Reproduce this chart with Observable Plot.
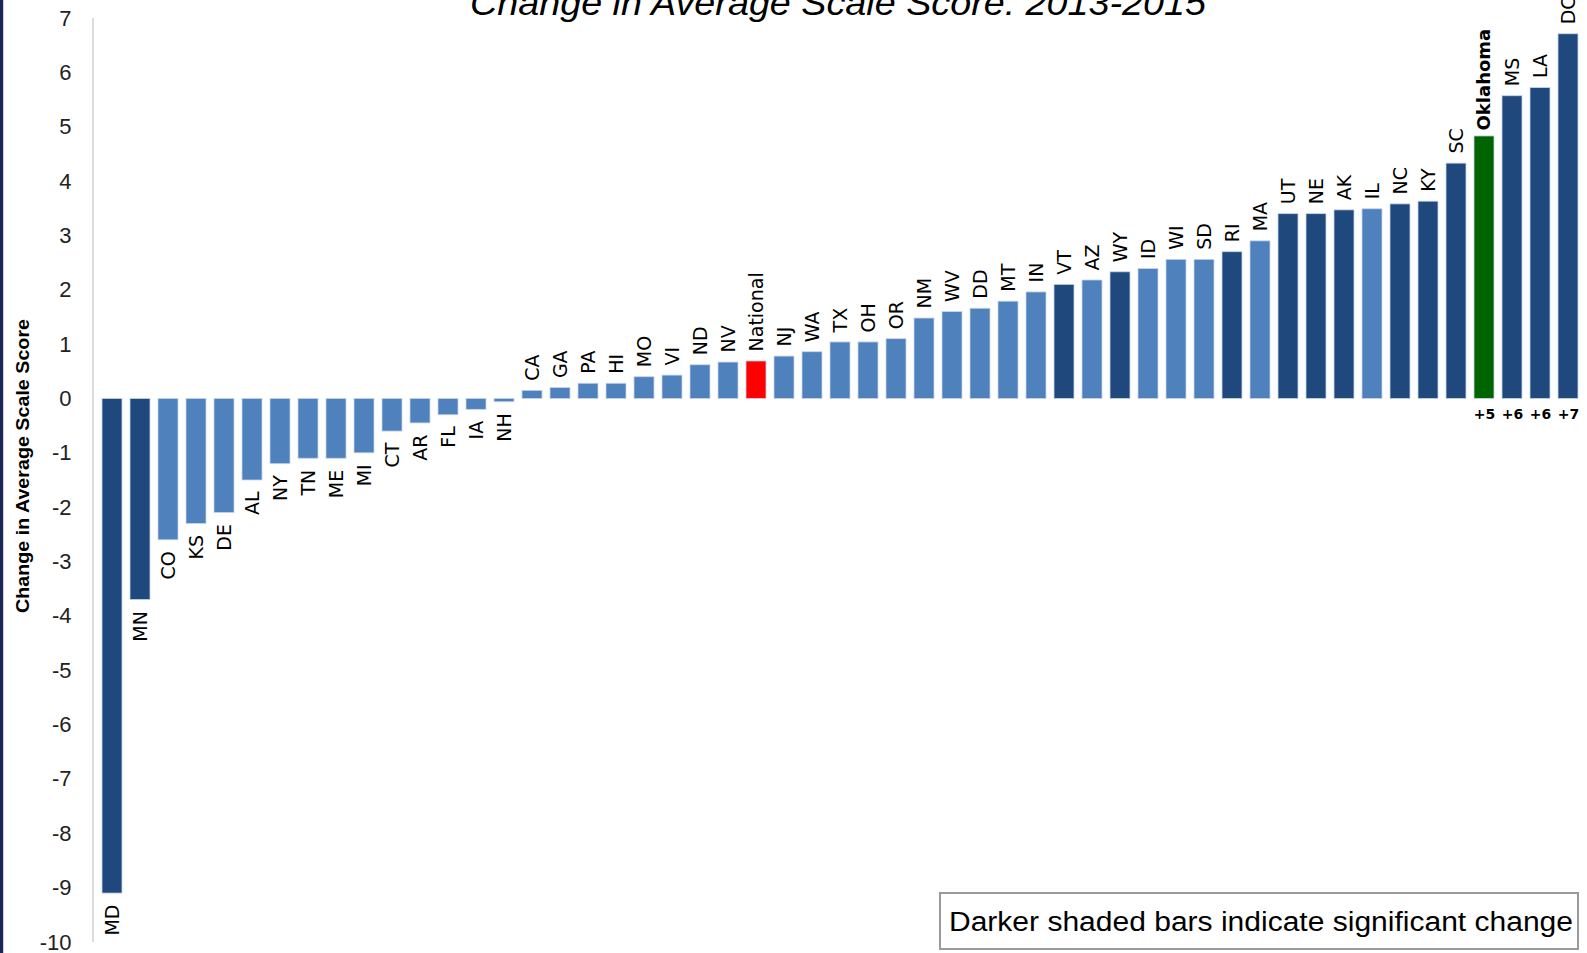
<!DOCTYPE html>
<html>
<head>
<meta charset="utf-8">
<script src="https://cdn.jsdelivr.net/npm/d3@7"></script>
<script src="https://cdn.jsdelivr.net/npm/@observablehq/plot@0.6"></script>
<style>
  html, body { margin: 0; padding: 0; background: #fff; }
  #wrap { position: relative; width: 1587px; height: 953px; overflow: hidden; }
  #edge { position: absolute; left: 0; top: 0; width: 3px; height: 953px; background: #1b2759; border-right: 1px solid #cfcfd6; }
</style>
</head>
<body>
<div id="wrap"><div id="edge"></div></div>
<script>
// ---- data ----
const states = ["MD","MN","CO","KS","DE","AL","NY","TN","ME","MI","CT","AR","FL","IA","NH",
  "CA","GA","PA","HI","MO","VI","ND","NV","National","NJ","WA","TX","OH","OR",
  "NM","WV","DD","MT","IN","VT","AZ","WY","ID","WI","SD","RI","MA",
  "UT","NE","AK","IL","NC","KY","SC","Oklahoma","MS","LA","DC"];
const changes = [-9.1,-3.7,-2.6,-2.3,-2.1,-1.5,-1.2,-1.1,-1.1,-1.0,-0.6,-0.45,-0.3,-0.2,-0.06,
  0.15,0.2,0.28,0.28,0.4,0.43,0.62,0.67,0.69,0.78,0.86,1.04,1.04,1.1,
  1.48,1.6,1.66,1.79,1.96,2.1,2.18,2.33,2.39,2.56,2.56,2.7,2.9,
  3.4,3.4,3.47,3.49,3.58,3.63,4.33,4.83,5.57,5.72,6.71];
const groups = ["sig","sig","ns","ns","ns","ns","ns","ns","ns","ns","ns","ns","ns","ns","ns",
  "ns","ns","ns","ns","ns","ns","ns","ns","national","ns","ns","ns","ns","ns",
  "ns","ns","ns","ns","ns","sig","ns","sig","ns","ns","ns","sig","ns",
  "sig","sig","sig","ns","sig","sig","sig","oklahoma","sig","sig","sig"];
const groupNames = ["sig","ns","national","oklahoma"];
const groupColors = ["#1f497d","#4f81bd","#ff0000","#006400"];
const roundedStates = ["Oklahoma","MS","LA","DC"];
const roundedLabels = ["+5","+6","+6","+7"];
const yTicks = d3.range(-10, 8);
const titleText = "Change in Average Scale Score: 2013-2015";
const yLabel = "Change in Average Scale Score";
const noteText = "Darker shaded bars indicate significant change";

const data = states.map((s, i) => ({state: s, value: changes[i], group: groups[i]}));
const rounded = roundedStates.map((s, i) => ({state: s, label: roundedLabels[i]}));
const pos = data.filter(d => d.value >= 0 && d.state !== "Oklahoma");
const neg = data.filter(d => d.value < 0);
const okla = data.filter(d => d.state === "Oklahoma");

const chart = Plot.plot({
  width: 1587,
  height: 953,
  marginTop: 18,
  marginBottom: 11,
  marginLeft: 93,
  marginRight: 0,
  style: {background: "transparent", fontFamily: "'Liberation Sans', sans-serif", overflow: "visible"},
  x: {domain: states, padding: 0.27, axis: null},
  y: {domain: [-10, 7], axis: null},
  color: {domain: groupNames, range: groupColors},
  marks: [
    Plot.axisY({ticks: yTicks, tickSize: 0, tickPadding: 22, fontSize: 22, label: null, tickFormat: d => String(d), color: "#222"}),
    Plot.barY(data, {x: "state", y: "value", fill: "group", stroke: "#c6d5ea", strokeWidth: 0.8}),
    Plot.text(pos, {x: "state", y: "value", text: "state", rotate: -90, textAnchor: "start", dy: -10,
      fontSize: 19, fontFamily: "'DejaVu Sans', sans-serif", fill: "#000"}),
    Plot.text(neg, {x: "state", y: "value", text: "state", rotate: -90, textAnchor: "end", dy: 11,
      fontSize: 19, fontFamily: "'DejaVu Sans', sans-serif", fill: "#000"}),
    Plot.text(okla, {x: "state", y: "value", text: "state", rotate: -90, textAnchor: "start", dy: -6,
      fontSize: 18, fontWeight: "bold", fontFamily: "'DejaVu Sans', sans-serif", fill: "#000"}),
    Plot.text(rounded, {x: "state", y: 0, text: "label", dy: 16, fontSize: 14, fontWeight: "bold",
      fontFamily: "'DejaVu Sans', sans-serif", fill: "#000"})
  ]
});

const wrap = document.getElementById("wrap");
chart.style.position = "absolute";
chart.style.left = "0px";
chart.style.top = "0px";
wrap.appendChild(chart);

const svg = d3.select(chart);
const xs = chart.scale("x");
const ys = chart.scale("y");
// y axis line
svg.append("line")
  .attr("x1", xs.range[0]).attr("x2", xs.range[0])
  .attr("y1", ys.range[1]).attr("y2", ys.range[0])
  .attr("stroke", "#d0d0d0").attr("stroke-width", 1.5);
// title
svg.append("text")
  .attr("x", 838).attr("y", 15)
  .attr("text-anchor", "middle")
  .attr("font-family", "'Liberation Sans', sans-serif")
  .attr("font-style", "italic")
  .attr("font-size", 35)
  .attr("fill", "#000")
  .attr("textLength", 736).attr("lengthAdjust", "spacingAndGlyphs")
  .text(titleText);
// y label
svg.append("text")
  .attr("transform", "translate(29,466) rotate(-90)")
  .attr("text-anchor", "middle")
  .attr("font-family", "'Liberation Sans', sans-serif")
  .attr("font-weight", "bold")
  .attr("font-size", 18)
  .attr("fill", "#000")
  .attr("textLength", 294).attr("lengthAdjust", "spacingAndGlyphs")
  .text(yLabel);
// note box
svg.append("rect")
  .attr("x", 940).attr("y", 893).attr("width", 638).attr("height", 56)
  .attr("fill", "#fff").attr("stroke", "#9a9a9a").attr("stroke-width", 2);
svg.append("text")
  .attr("x", 949).attr("y", 931)
  .attr("text-anchor", "start")
  .attr("font-family", "'Liberation Sans', sans-serif")
  .attr("font-size", 27)
  .attr("fill", "#000")
  .attr("textLength", 624).attr("lengthAdjust", "spacingAndGlyphs")
  .text(noteText);
</script>
</body>
</html>
